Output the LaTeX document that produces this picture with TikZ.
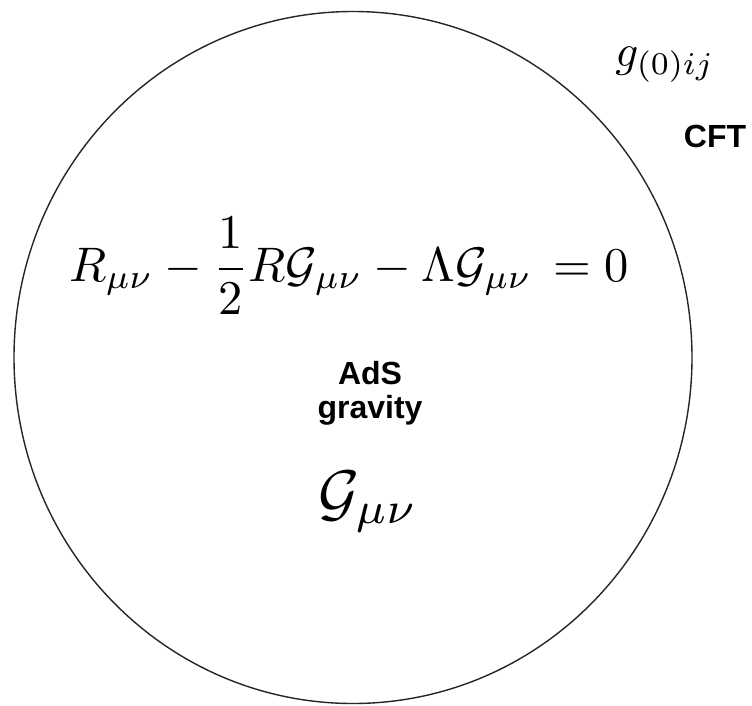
\documentclass[tikz,border=0pt]{standalone}
\usepackage{amsmath}
\usepackage{fontspec}
\newfontfamily\labelfont{Liberation Sans}
\begin{document}
\begin{tikzpicture}[x=1pt,y=-1pt,
  mathlbl/.style={inner sep=0pt, scale=4.85},
  sanslbl/.style={inner sep=0pt, font=\labelfont\bfseries\fontsize{32}{34}\selectfont, align=center}]
\useasboundingbox[fill=white] (0,0) rectangle (752,705);
\draw[line width=1.4pt, black!85] (353,357.5) ellipse [x radius=339, y radius=346];
\node[mathlbl] (eq) at (349,266) {$\displaystyle R_{\mu\nu}-\frac{1}{2}R\mathcal{G}_{\mu\nu}-\Lambda\mathcal{G}_{\mu\nu}\,=0$};
\node[mathlbl, scale=0.93] (bdry) at (665,65) {$g_{(0)ij}$};
\node[sanslbl] (cft) at (715,136) {CFT};
\node[sanslbl] (ads) at (370,393) {AdS\\gravity};
\node[mathlbl, scale=1.3] (metric) at (368,502) {$\mathcal{G}_{\mu\nu}$};
\end{tikzpicture}
\end{document}
